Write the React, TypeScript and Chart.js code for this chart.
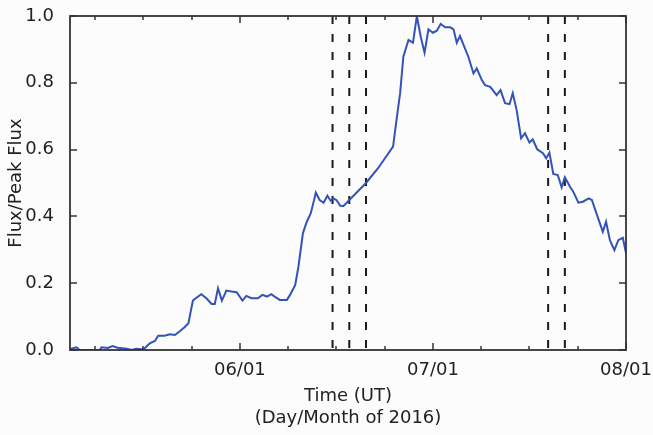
import React, { useEffect, useRef } from "react";
import { Chart, registerables } from "chart.js";

Chart.register(...registerables);

// Days counted from 06/01 (one major tick every 30 days)
const fluxDays = [
  -26.4, -25.4, -24.9, -21.8, -21.5, -20.5, -19.8, -19.0, -17.6, -16.8, -16.1, -15.3, -14.8,
  -14.0, -13.2, -12.7, -11.7, -10.9, -10.1, -9.3, -8.6, -8.0, -7.3, -6.7, -6.0, -5.2, -4.4,
  -3.9, -3.4, -2.8, -2.1, -1.3, -0.5, 0.4, 1.0, 1.8, 2.8, 3.5, 4.2, 4.9, 5.4, 6.2, 7.3, 7.8,
  8.6, 9.1, 9.8, 10.4, 11.0, 11.4, 11.8, 12.4, 13.0, 13.6, 14.1, 14.5, 15.0, 15.6, 16.1,
  19.6, 21.5, 23.8, 24.4, 24.9, 25.4, 26.2, 26.9, 27.5, 28.1, 28.7, 29.3, 30.0, 30.6, 31.2,
  31.9, 32.7, 33.2, 33.7, 34.2, 35.5, 36.3, 36.8, 37.6, 38.1, 38.9, 39.9, 40.5, 41.2, 41.9,
  42.4, 43.0, 43.7, 44.3, 45.0, 45.5, 46.2, 47.1, 47.6, 48.1, 48.7, 49.4, 50.0, 50.5, 51.3,
  51.8, 52.6, 53.3, 54.2, 54.7, 55.5, 56.4, 56.9, 57.5, 58.2, 58.8, 59.5, 60.0,
];
const fluxValues = [
  0.003, 0.008, 0.0, 0.0, 0.008, 0.006, 0.012, 0.007, 0.004, 0.0, 0.004, 0.002, 0.005,
  0.02, 0.027, 0.043, 0.043, 0.047, 0.045, 0.057, 0.068, 0.08, 0.148, 0.157, 0.167, 0.155, 0.138,
  0.138, 0.185, 0.148, 0.178, 0.175, 0.173, 0.148, 0.162, 0.155, 0.155, 0.165, 0.16, 0.167, 0.16, 0.15, 0.15, 0.165,
  0.195, 0.25, 0.35, 0.384, 0.409, 0.439, 0.471, 0.449, 0.441, 0.462, 0.447, 0.454, 0.449, 0.432, 0.431,
  0.5, 0.545, 0.609, 0.698, 0.769, 0.878, 0.928, 0.92, 1.0, 0.938, 0.89, 0.96, 0.95, 0.956, 0.976,
  0.966, 0.966, 0.96, 0.92, 0.94, 0.878, 0.828, 0.843, 0.808, 0.793, 0.788, 0.763, 0.778, 0.739, 0.736,
  0.769, 0.719, 0.634, 0.649, 0.621, 0.631, 0.601, 0.589, 0.574, 0.591, 0.527, 0.524, 0.487, 0.517, 0.489,
  0.474, 0.441, 0.444, 0.454, 0.449, 0.404, 0.354, 0.384, 0.329, 0.299, 0.329, 0.336, 0.29,
];
const eventDays = [14.4, 17.0, 19.6, 47.9, 50.5];
const majorTickDays = [0, 30, 60];
const majorTickLabels = ["06/01", "07/01", "08/01"];
const minorTickStep = 7.5;
const yTickValues = [0, 0.2, 0.4, 0.6, 0.8, 1.0];
const xMin = -26.4;
const xMax = 60;

const FONT = "'DejaVu Sans', sans-serif";
const TEXT = "#222";
const AXIS = "#333";

const framePlugin = {
  id: "framePlugin",
  afterDraw(chart: any) {
    const { ctx, chartArea: a } = chart;
    const xs = chart.scales.x;
    const ys = chart.scales.y;
    ctx.save();
    ctx.setLineDash([]);
    ctx.strokeStyle = AXIS;
    ctx.lineWidth = 1.5;
    ctx.beginPath();
    for (const d of majorTickDays) {
      const px = Math.round(xs.getPixelForValue(d));
      ctx.moveTo(px, a.bottom);
      ctx.lineTo(px, a.bottom - 7);
      ctx.moveTo(px, a.top);
      ctx.lineTo(px, a.top + 7);
    }
    for (let k = Math.ceil(xMin / minorTickStep); k * minorTickStep <= xMax; k++) {
      const d = k * minorTickStep;
      if (majorTickDays.includes(d)) continue;
      const px = Math.round(xs.getPixelForValue(d));
      ctx.moveTo(px, a.bottom);
      ctx.lineTo(px, a.bottom - 4);
      ctx.moveTo(px, a.top);
      ctx.lineTo(px, a.top + 4);
    }
    for (const v of yTickValues) {
      const py = Math.round(ys.getPixelForValue(v));
      ctx.moveTo(a.left, py);
      ctx.lineTo(a.left + 7, py);
      ctx.moveTo(a.right, py);
      ctx.lineTo(a.right - 7, py);
    }
    ctx.stroke();
    ctx.lineWidth = 1.8;
    ctx.strokeRect(a.left, a.top, a.right - a.left, a.bottom - a.top);
    ctx.restore();
  },
};

export default function App() {
  const canvasRef = useRef<HTMLCanvasElement | null>(null);

  useEffect(() => {
    document.body.style.margin = "0";
    const canvas = canvasRef.current;
    if (!canvas) return;

    const fluxData = fluxDays.map((d, i) => ({ x: d, y: fluxValues[i] }));
    const eventSets = eventDays.map((d) => ({
      data: [
        { x: d, y: 1 },
        { x: d, y: 0 },
      ],
      borderColor: "#1a1a1a",
      borderWidth: 2,
      borderDash: [8, 10],
      pointRadius: 0,
      tension: 0,
    }));

    const chart = new Chart(canvas, {
      type: "line",
      data: {
        datasets: [
          {
            data: fluxData,
            borderColor: "#3552b8",
            borderWidth: 2,
            pointRadius: 0,
            tension: 0,
          },
          ...eventSets,
        ],
      },
      options: {
        responsive: false,
        animation: false,
        devicePixelRatio: 1,
        layout: { padding: { left: 0, right: 27, top: 16, bottom: 0 } },
        plugins: {
          legend: { display: false },
          tooltip: { enabled: false },
        },
        scales: {
          x: {
            type: "linear",
            min: xMin,
            max: xMax,
            grid: { display: false },
            border: { display: false },
            afterFit: (s: any) => {
              s.height = 85;
              s.paddingLeft = 0;
              s.paddingRight = 0;
            },
            afterBuildTicks: (s: any) => {
              s.ticks = majorTickDays.map((v) => ({ value: v }));
            },
            ticks: {
              autoSkip: false,
              maxRotation: 0,
              padding: 2,
              color: TEXT,
              font: { family: FONT, size: 18 },
              callback: (_v: any, i: number) => majorTickLabels[i],
            },
            title: {
              display: true,
              text: ["Time (UT)", "(Day/Month of 2016)"],
              color: TEXT,
              font: { family: FONT, size: 18, lineHeight: 1.22 },
              padding: { top: 0, bottom: 6 },
            },
          },
          y: {
            type: "linear",
            min: 0,
            max: 1,
            grid: { display: false },
            border: { display: false },
            afterFit: (s: any) => {
              s.width = 70;
              s.paddingTop = 0;
              s.paddingBottom = 0;
            },
            afterBuildTicks: (s: any) => {
              s.ticks = yTickValues.map((v) => ({ value: v }));
            },
            ticks: {
              padding: 8,
              color: TEXT,
              font: { family: FONT, size: 18 },
              callback: (v: any) => Number(v).toFixed(1),
            },
            title: {
              display: true,
              text: "Flux/Peak Flux",
              color: TEXT,
              font: { family: FONT, size: 18, lineHeight: 1.2 },
              padding: { top: 6, bottom: 0 },
            },
          },
        },
      },
      plugins: [framePlugin],
    });

    return () => chart.destroy();
  }, []);

  return (
    <div
      style={{
        position: "absolute",
        left: 0,
        top: 0,
        width: 653,
        height: 435,
        background: "#fcfcfd",
      }}
    >
      <canvas ref={canvasRef} width={653} height={435} />
    </div>
  );
}
